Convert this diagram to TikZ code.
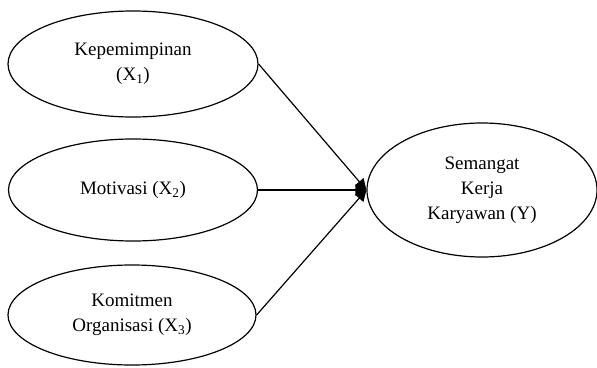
\documentclass[tikz,border=0pt]{standalone}
\usepackage{fontspec}
\setmainfont{Liberation Serif}
\usetikzlibrary{shapes.geometric,arrows.meta}
\begin{document}
\begin{tikzpicture}[x=1pt,y=-1pt,
  var/.style={draw,ellipse,line width=1.2pt,inner sep=0pt,align=center,font=\fontsize{19}{25}\selectfont},
  link/.style={line width=1.2pt,-{Triangle[length=11pt,width=11pt]}}]
\useasboundingbox (0,0) rectangle (597,367);
\node[var,minimum width=250pt,minimum height=106pt] (x1) at (133,64) {Kepemimpinan\\(X\textsubscript{1})};
\node[var,minimum width=249pt,minimum height=102pt] (x2) at (133,190) {Motivasi (X\textsubscript{2})};
\node[var,minimum width=248pt,minimum height=100pt] (x3) at (132,315) {Komitmen\\Organisasi (X\textsubscript{3})};
\node[var,minimum width=230pt,minimum height=134pt] (y) at (482,190) {Semangat\\Kerja\\Karyawan (Y)};
\draw[link] (x1.east) -- (y.west);
\draw[link] (x2.east) -- (y.west);
\draw[link] (x3.east) -- (y.west);
\end{tikzpicture}
\end{document}
